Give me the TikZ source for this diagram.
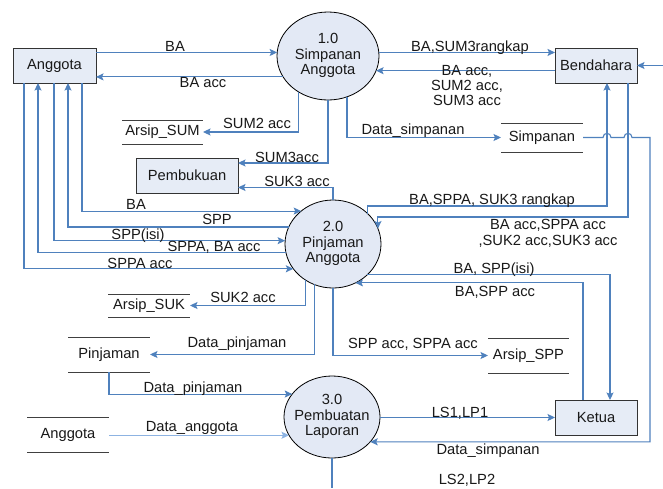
\documentclass[tikz,border=0pt]{standalone}
\usepackage{fontspec}
\setmainfont{Liberation Sans}
\usetikzlibrary{arrows.meta,shapes.geometric}
\definecolor{flowblue}{HTML}{4F81BD}
\definecolor{flowlight}{HTML}{8DB3E2}
\definecolor{boxfill}{HTML}{E6ECF6}
\definecolor{procfill}{HTML}{E3E9F5}
\definecolor{storegray}{HTML}{404040}
\newcommand\proclines[3]{\makebox[0pt]{\begin{tabular}{@{}c@{}}#1\\#2\\#3\end{tabular}}}
\begin{document}
\begin{tikzpicture}[x=1pt,y=-1pt,
  every node/.style={font=\fontsize{14.7}{15.5}\selectfont, text=black!90},
  entity/.style={draw=black!80, line width=1pt, fill=boxfill, minimum width=#1,
    minimum height=35, inner sep=0, outer sep=0},
  proc/.style 2 args={ellipse, draw=black, line width=0.8pt, fill=procfill,
    minimum width=#1, minimum height=#2, inner sep=0, outer sep=0},
  store/.style 2 args={minimum width=#1, minimum height=#2, inner sep=0, outer sep=0},
  storeline/.style={draw=storegray, line width=1pt},
  flow/.style={draw=flowblue, line width=1.1pt,
    -{Stealth[length=7.5pt,width=7pt,inset=1.5pt]}},
  plain/.style={draw=flowblue, line width=1.1pt},
  lbl/.style={anchor=base, inner sep=0}]
\useasboundingbox[fill=white] (0,0) rectangle (663,488);

% external entities
\node[entity=83]  (anggota) at (54.5,65.5)  {Anggota};
\node[entity=82]  (bend)    at (596,65.5)   {Bendahara};
\node[entity=102] (pemb)    at (187,175.5)  {Pembukuan};
\node[entity=82]  (ketua)   at (596,417.5)  {Ketua};

% processes
\node[proc={102}{88}] (p1) at (328,56)  {\proclines{1.0}{Simpanan}{Anggota}};
\node[proc={96}{88}]  (p2) at (333,244) {\proclines{2.0}{Pinjaman}{Anggota}};
\node[proc={96}{82}]  (p3) at (332,417) {\proclines{3.0}{Pembuatan}{Laporan}};

% data stores
\node[store={81}{24}] (arsipsum)  at (162.5,132)  {Arsip\_SUM};
\node[store={82}{29}] (simpanan)  at (542,137.5)  {Simpanan};
\node[store={82}{23}] (arsipsuk)  at (149,305.5)  {Arsip\_SUK};
\node[store={82}{35}] (pinjaman)  at (109,354.5)  {Pinjaman};
\node[store={81}{35}] (arsipspp)  at (528.5,355.5){Arsip\_SPP};
\node[store={82}{35}] (anggotadb) at (68,434.5)   {Anggota};
\foreach \s in {arsipsum,simpanan,arsipsuk,pinjaman,arsipspp,anggotadb}
  \draw[storeline] (\s.north west) -- (\s.north east) (\s.south west) -- (\s.south east);

% helper points
\coordinate (redge) at (663,65.5);
\coordinate (bottomedge) at (332,488);
\coordinate (rightrail) at (650,137.5);
\coordinate (k1) at (607,206);
\coordinate (k2) at (628,217);
\coordinate (k3) at (610,300);
\coordinate (k4) at (583,300);

% process 1.0
\draw[flow]  (anggota.east |- p1.176) -- (p1.176);
\draw[flow]  (p1.205) -- (anggota.east |- p1.205);
\draw[flow]  (p1.4) -- (bend.west |- p1.4);
\draw[flow]  (bend.west |- p1.-17) -- (p1.-17);
\draw[flow]  (p1.230) |- (arsipsum.east);
\draw[flow]  (p1.south) |- ([yshift=12.5pt]pemb.east);
\draw[flow]  (p1.-65) |- (simpanan.west);
\draw[flow]  (redge) -- (bend.east);

% simpanan store to report process, hopping over two lines
\draw[flow]  (simpanan.east) -- (603,137.5)
  .. controls (603,132) and (611,132) .. (611,137.5) -- (624,137.5)
  .. controls (624,132) and (632,132) .. (632,137.5) -- (rightrail) |- (p3.-33);

% process 2.0
\draw[flow]  (p2.north) |- ([yshift=-12pt]pemb.east);
\draw[flow]  ([xshift=27.5pt]anggota.south) |- (p2.134);
\draw[flow]  (p2.159) -| ([xshift=13.5pt]anggota.south);
\draw[flow]  ([xshift=-0.5pt]anggota.south) |- (p2.176);
\draw[flow]  (p2.190) -| ([xshift=-16.5pt]anggota.south);
\draw[flow]  ([xshift=-30.5pt]anggota.south) |- (p2.212);
\draw[flow]  (p2.232) |- (arsipsuk.east);
\draw[flow]  (p2.245) |- (pinjaman.east);
\draw[flow]  (p2.south) |- (arsipspp.west);
\draw[flow]  (p2.41) |- (k1) -- (k1 |- bend.south);
\draw[flow]  (k2 |- bend.south) -- (k2) -| (p2.19);
\draw[flow]  (p2.-42) -| (k3 |- ketua.north);
\draw[flow]  (k4 |- ketua.north) |- (p2.-60);

% process 3.0
\draw[flow]  (pinjaman.south) |- (p3.150);
\draw[flow,draw=flowlight] (anggotadb.east |- p3.203) -- (p3.203);
\draw[flow]  (p3.east |- ketua.west) -- (ketua.west);
\draw[plain] (p3.south) -- (bottomedge);

% flow labels
\node[lbl] (t1)  at (175,51)   {BA};
\node[lbl] (t2)  at (203,87)   {BA acc};
\node[lbl] (t3)  at (470,51)   {BA,SUM3rangkap};
\node[lbl] (t4a) at (467,75)   {BA acc,};
\node[lbl] (t4b) at (467,90)   {SUM2 acc,};
\node[lbl] (t4c) at (467,105)  {SUM3 acc};
\node[lbl] (t5)  at (257,128)  {SUM2 acc};
\node[lbl] (t6)  at (287,162)  {SUM3acc};
\node[lbl] (t7)  at (413,134)  {Data\_simpanan};
\node[lbl] (t8)  at (297,186)  {SUK3 acc};
\node[lbl] (t9)  at (136,209)  {BA};
\node[lbl] (t10) at (217,224)  {SPP};
\node[lbl] (t11) at (138,239)  {SPP(isi)};
\node[lbl] (t12) at (214,251)  {SPPA, BA acc};
\node[lbl] (t13) at (140,268)  {SPPA acc};
\node[lbl] (t14) at (243,302)  {SUK2 acc};
\node[lbl] (t15) at (492,204)  {BA,SPPA, SUK3 rangkap};
\node[lbl] (t16) at (548,229)  {BA acc,SPPA acc};
\node[lbl] (t17) at (548,245)  {,SUK2 acc,SUK3 acc};
\node[lbl] (t18) at (494,273)  {BA, SPP(isi)};
\node[lbl] (t19) at (495,296)  {BA,SPP acc};
\node[lbl] (t20) at (237,347)  {Data\_pinjaman};
\node[lbl] (t21) at (413,348)  {SPP acc, SPPA acc};
\node[lbl] (t22) at (193,392)  {Data\_pinjaman};
\node[lbl] (t23) at (192,431)  {Data\_anggota};
\node[lbl] (t24) at (460,417)  {LS1,LP1};
\node[lbl] (t25) at (488,454)  {Data\_simpanan};
\node[lbl] (t26) at (467,484.5){LS2,LP2};
\end{tikzpicture}
\end{document}
